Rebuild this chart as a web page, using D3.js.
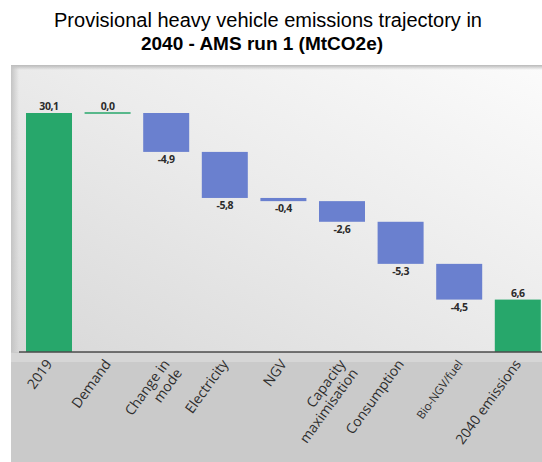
<!DOCTYPE html>
<html>
<head>
<meta charset="utf-8">
<script src="https://cdn.jsdelivr.net/npm/d3@7"></script>
<style>
  html, body { margin: 0; padding: 0; background: #ffffff; }
  svg { display: block; }
</style>
</head>
<body>
<svg id="chart" width="542" height="462"></svg>
<script>
// Waterfall steps: starting total, changes, final total
const categories = ["2019", "Demand", "Change in mode", "Electricity", "NGV",
  "Capacity maximisation", "Consumption", "Bio-NGV/fuel", "2040 emissions"];
const categoryLines = [["2019"], ["Demand"], ["Change in", "mode"], ["Electricity"], ["NGV"],
  ["Capacity", "maximisation"], ["Consumption"], ["Bio-NGV/fuel"], ["2040 emissions"]];
const values = [30.1, 0.0, -4.9, -5.8, -0.4, -2.6, -5.3, -4.5, 6.6];
const stepTypes = ["total", "delta", "delta", "delta", "delta", "delta", "delta", "delta", "total"];
const titleLines = ["Provisional heavy vehicle emissions trajectory in", "2040 - AMS run 1 (MtCO2e)"];

const W = 542, H = 462;
const svg = d3.select("#chart");

const locale = d3.formatLocale({ decimal: ",", thousands: " ", grouping: [3], currency: ["", ""], minus: "-" });
const fmt = locale.format(".1f");

// Build waterfall segments from running total
let running = 0;
const steps = categories.map((c, i) => {
  let start, end;
  if (stepTypes[i] === "total") { start = 0; end = values[i]; running = values[i]; }
  else { start = running; end = running + values[i]; running = end; }
  return { cat: c, lines: categoryLines[i], value: values[i], type: stepTypes[i], start, end };
});

const axisY = 352;
const x = d3.scaleBand().domain(categories).range([19.7, 547.1]).paddingInner(0.215).paddingOuter(0.1075);
const y = d3.scaleLinear().domain([0, 30.1]).range([axisY, 113]);

const green = "#27a76b", blue = "#6a80cf";

// Panel background
const defs = svg.append("defs");
const g1 = defs.append("linearGradient").attr("id", "panelGrad")
  .attr("x1", "0%").attr("y1", "100%").attr("x2", "100%").attr("y2", "0%");
g1.append("stop").attr("offset", "0%").attr("stop-color", "#d8d8d8");
g1.append("stop").attr("offset", "55%").attr("stop-color", "#ececec");
g1.append("stop").attr("offset", "100%").attr("stop-color", "#fbfbfb");
const g2 = defs.append("linearGradient").attr("id", "topShade")
  .attr("x1", "0").attr("y1", "0").attr("x2", "0").attr("y2", "1");
g2.append("stop").attr("offset", "0%").attr("stop-color", "#b8b8b8");
g2.append("stop").attr("offset", "100%").attr("stop-color", "#b8b8b8").attr("stop-opacity", 0);
const g3 = defs.append("linearGradient").attr("id", "leftShade")
  .attr("x1", "0").attr("y1", "0").attr("x2", "1").attr("y2", "0");
g3.append("stop").attr("offset", "0%").attr("stop-color", "#c4c4c4");
g3.append("stop").attr("offset", "100%").attr("stop-color", "#c4c4c4").attr("stop-opacity", 0);

svg.append("rect").attr("x", 0).attr("y", 0).attr("width", W).attr("height", H).attr("fill", "#ffffff");
svg.append("rect").attr("x", 11).attr("y", 66).attr("width", W - 11).attr("height", axisY - 66).attr("fill", "url(#panelGrad)");
svg.append("rect").attr("x", 11).attr("y", 65).attr("width", W - 11).attr("height", 5).attr("fill", "url(#topShade)");
svg.append("rect").attr("x", 11).attr("y", 66).attr("width", 8).attr("height", axisY - 66).attr("fill", "url(#leftShade)");
svg.append("rect").attr("x", 11).attr("y", axisY).attr("width", W - 11).attr("height", H - axisY).attr("fill", "#cacaca");
svg.append("rect").attr("x", 11).attr("y", axisY + 1).attr("width", W - 11).attr("height", 9).attr("fill", "#d6d6d6");

// Title
const title = svg.append("text").attr("text-anchor", "middle").attr("fill", "#000")
  .style("font-family", "'Liberation Sans', Arial, sans-serif");
title.append("tspan").attr("x", 268).attr("y", 27).style("font-size", "20px").text(titleLines[0]);
title.append("tspan").attr("x", 262).attr("y", 50).style("font-size", "19px").style("font-weight", "bold").text(titleLines[1]);

// Bars
const bars = svg.append("g");
steps.forEach(d => {
  const x0 = x(d.cat), bw = x.bandwidth();
  const color = d.type === "total" || d.value >= 0 ? green : blue;
  const top = y(Math.max(d.start, d.end)), bottom = y(Math.min(d.start, d.end));
  if (d.value === 0) {
    bars.append("line").attr("x1", x0).attr("x2", x0 + bw).attr("y1", top).attr("y2", top)
      .attr("stroke", color).attr("stroke-width", 1.5);
  } else {
    bars.append("rect").attr("x", x0).attr("y", top).attr("width", bw)
      .attr("height", Math.max(1.5, bottom - top)).attr("fill", color);
  }
  // value label
  const below = d.type === "delta" && d.value < 0;
  bars.append("text")
    .attr("x", x0 + bw / 2)
    .attr("y", below ? bottom + 11 : top - 3)
    .attr("text-anchor", "middle")
    .attr("fill", "#2b2b2b")
    .style("font-family", "'Open Sans', sans-serif")
    .style("font-weight", "bold")
    .style("font-size", "10.5px")
    .style("letter-spacing", "-0.4px")
    .text(fmt(d.value));
});

// Axis line
svg.append("line").attr("x1", 19).attr("x2", W).attr("y1", axisY).attr("y2", axisY)
  .attr("stroke", "#4d4d4d").attr("stroke-width", 1.6);

// Category labels, rotated
const labels = svg.append("g");
steps.forEach(d => {
  const cx = x(d.cat) + x.bandwidth() / 2;
  const small = d.cat === "Bio-NGV/fuel";
  const t = labels.append("text")
    .attr("transform", `translate(${cx + 4},${axisY + 12}) rotate(-54)`)
    .attr("text-anchor", "end")
    .attr("fill", "#2e2e2e")
    .style("font-family", "'Open Sans', sans-serif")
    .style("font-size", small ? "11.5px" : "14px");
  d.lines.forEach((ln, i) => {
    t.append("tspan").attr("x", 0).attr("dy", i === 0 ? 0 : "1.1em").text(ln);
  });
});
</script>
</body>
</html>
